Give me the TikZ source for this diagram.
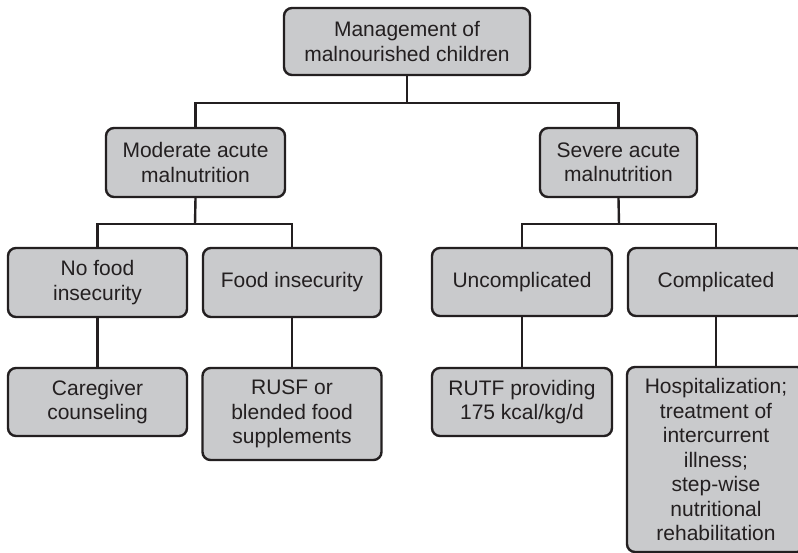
\documentclass[tikz,border=0pt]{standalone}
\usepackage{fontspec}
\setmainfont{Liberation Sans}
\definecolor{boxfill}{HTML}{C9CACC}
\definecolor{ink}{HTML}{231F20}
\begin{document}
\begin{tikzpicture}[x=1pt,y=-1pt,
  box/.style={draw=ink, line width=2.4pt, fill=boxfill, rounded corners=8pt,
    rectangle, align=center, inner sep=0pt, text=ink,
    font=\fontsize{21}{24.5}\selectfont},
  link/.style={draw=ink, line width=2.4pt}]
\clip (0,0) rectangle (798,553);
\fill[white] (0,0) rectangle (798,553);
\node[box, minimum width=246pt, minimum height=67pt] (top) at (407,41.5) {Management of\\malnourished children};
\node[box, minimum width=179pt, minimum height=69pt] (mod) at (195.5,162.5) {Moderate acute\\malnutrition};
\node[box, minimum width=157pt, minimum height=69pt] (sev) at (618.5,162.5) {Severe acute\\malnutrition};
\node[box, minimum width=179pt, minimum height=69pt] (nofood) at (97.5,282.5) {No food\\insecurity};
\node[box, minimum width=178pt, minimum height=69pt] (foodins) at (292,282.5) {Food insecurity};
\node[box, minimum width=180pt, minimum height=68pt] (uncomp) at (522,282) {Uncomplicated};
\node[box, minimum width=176pt, minimum height=68pt] (comp) at (716,282) {Complicated};
\node[box, minimum width=179pt, minimum height=68pt] (care) at (97.5,402) {Caregiver\\counseling};
\node[box, minimum width=179pt, minimum height=92pt] (rusf) at (292,414) {RUSF or\\blended food\\supplements};
\node[box, minimum width=180pt, minimum height=68pt] (rutf) at (522,402) {RUTF providing\\175 kcal/kg/d};
\node[box, minimum width=178pt, minimum height=185pt] (hosp) at (716,459.5) {Hospitalization;\\treatment of\\intercurrent\\illness;\\step-wise\\nutritional\\rehabilitation};
\coordinate (b1) at (407,103);
\coordinate (b2) at (195,224);
\coordinate (b3) at (619,224);
\draw[link] (top.south) -- (b1);
\draw[link] (mod.north) |- (b1) -| (sev.north);
\draw[link] (mod.south) -- (b2);
\draw[link] (nofood.north) |- (b2) -| (foodins.north);
\draw[link] (sev.south) -- (b3);
\draw[link] (uncomp.north) |- (b3) -| (comp.north);
\draw[link] (nofood.south) -- (care.north);
\draw[link] (foodins.south) -- (rusf.north);
\draw[link] (uncomp.south) -- (rutf.north);
\draw[link] (comp.south) -- (hosp.north);
\end{tikzpicture}
\end{document}
